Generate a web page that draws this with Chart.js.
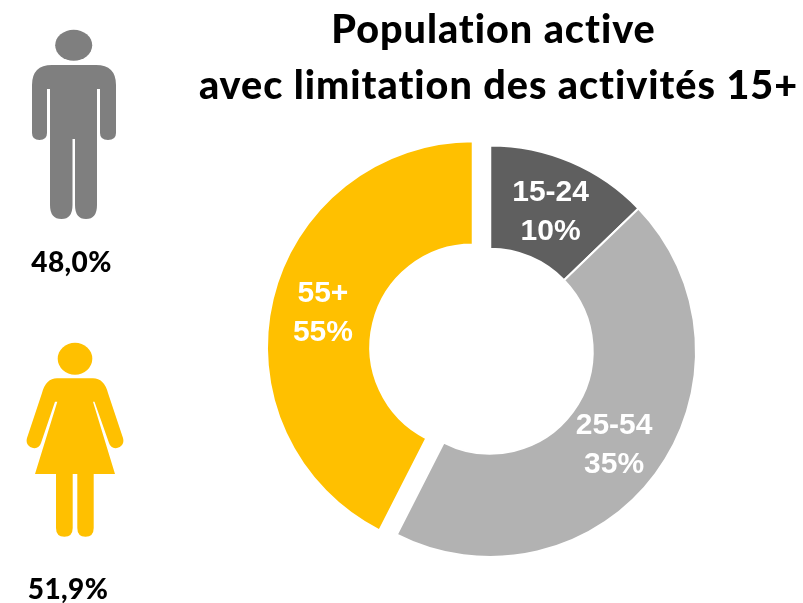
<!DOCTYPE html>
<html lang="fr">
<head>
<meta charset="utf-8">
<title>Population active avec limitation des activités 15+</title>
<script src="https://cdn.jsdelivr.net/npm/chart.js@4"></script>
<style>
  html, body { margin: 0; padding: 0; background: #fff; }
  #page { position: relative; width: 803px; height: 603px; overflow: hidden; font-family: Lato, sans-serif; color: #000; font-variant-ligatures: none; }
  #donut { position: absolute; left: 0; top: 0; }
  .txt { position: absolute; white-space: nowrap; font-weight: 900; transform: translate(-50%, -50%); line-height: 1; }
  .title { font-size: 39.5px; letter-spacing: 1px; }
  .pct { font-size: 28px; letter-spacing: 0.4px; }
  svg { position: absolute; left: 0; top: 0; }
</style>
</head>
<body>
<div id="page">
  <canvas id="donut" width="803" height="603"></canvas>
  <svg width="803" height="603">
    <g fill="#7f7f7f">
      <ellipse cx="73.7" cy="45.3" rx="18.5" ry="15.5"/>
      <path d="M52 65H96Q116 65 116 85V133Q116 140 108 140Q100 140 100 133V89H97V205Q97 219 86 219Q75 219 75 205V139H72.5V205Q72.5 219 61.5 219Q50 219 50 205V89H47V133Q47 140 39.5 140Q32 140 32 133V85Q32 65 52 65Z"/>
    </g>
    <g fill="#ffc000">
      <ellipse cx="75" cy="358.7" rx="17.3" ry="16"/>
      <path d="M57 378.3H93Q104 378.3 108 393L123 438Q125 446 117 448Q111 449 109 443L94.5 401.7H93L115 474H93.7V528Q93.7 536.7 85.5 536.7Q77.3 536.7 77.3 528V474H72.7V528Q72.7 536.7 64.4 536.7Q56 536.7 56 528V474H35L57.3 401.7H55L41 443Q39 449 33 448Q25 446 27 438L42 393Q46 378.3 57 378.3Z"/>
    </g>
  </svg>
  <div class="txt title" style="left:493.5px;top:28px">Population active</div>
  <div class="txt title" style="left:498.5px;top:84px">avec limitation des activités 15+</div>
  <div class="txt pct" style="left:71.5px;top:261px">48,0%</div>
  <div class="txt pct" style="left:68px;top:588px">51,9%</div>
</div>
<script>
  const ageGroups = ['15-24', '25-54', '55+'];
  // printed on the slices
  const printedShares = ['10%', '35%', '55%'];
  // slice sizes as they are drawn in the picture (they don't follow the printed numbers)
  const drawnShares = [12.8, 44.7, 42.5];
  const sliceColors = ['#5f5f5f', '#b2b2b2', '#ffc000'];
  const explodedSlice = 2;
  const explodeBy = 18;

  // pulls one slice out along its middle angle, same as the office "exploded" slice
  const explodePlugin = {
    id: 'explode',
    beforeDatasetDraw(chart) {
      const arc = chart.getDatasetMeta(0).data[explodedSlice];
      if (arc.$moved) return;
      arc.$moved = true;
      const mid = (arc.startAngle + arc.endAngle) / 2;
      arc.x += Math.cos(mid) * explodeBy;
      arc.y += Math.sin(mid) * explodeBy;
    }
  };

  const sliceLabels = {
    id: 'sliceLabels',
    afterDatasetDraw(chart) {
      const ctx = chart.ctx;
      ctx.save();
      ctx.fillStyle = '#fff';
      ctx.font = 'bold 30px "Liberation Sans", Arial, sans-serif';
      ctx.textAlign = 'center';
      ctx.textBaseline = 'middle';
      chart.getDatasetMeta(0).data.forEach((arc, i) => {
        const p = arc.getCenterPoint();
        ctx.fillText(ageGroups[i], p.x, p.y - 17);
        ctx.fillText(printedShares[i], p.x, p.y + 22);
      });
      ctx.restore();
    }
  };

  new Chart(document.getElementById('donut').getContext('2d'), {
    type: 'doughnut',
    data: {
      labels: ageGroups,
      datasets: [{
        data: drawnShares,
        backgroundColor: sliceColors,
        borderColor: '#fff',
        borderWidth: 2
      }]
    },
    options: {
      responsive: false,
      animation: false,
      cutout: '49.8%',
      layout: { padding: { left: 283.5, right: 106, top: 144.5, bottom: 45 } },
      plugins: { legend: { display: false }, tooltip: { enabled: false } }
    },
    plugins: [explodePlugin, sliceLabels]
  });
</script>
</body>
</html>
